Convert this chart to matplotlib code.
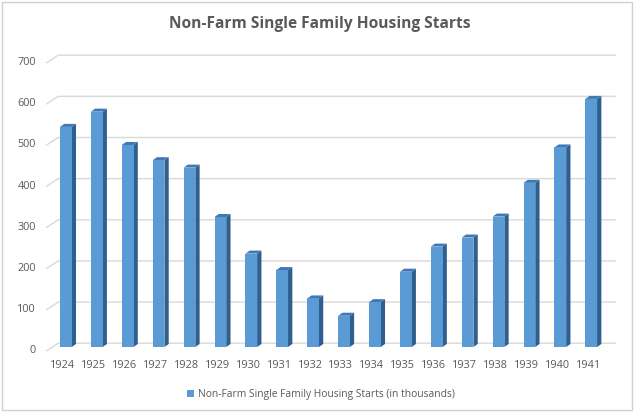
import matplotlib
matplotlib.use("Agg")
import matplotlib.pyplot as plt
from matplotlib.patches import Polygon, Rectangle, Patch

years = [1924, 1925, 1926, 1927, 1928, 1929, 1930, 1931, 1932,
         1933, 1934, 1935, 1936, 1937, 1938, 1939, 1940, 1941]
starts = [535, 572, 491, 454, 436, 316, 227, 187, 118,
          76, 109, 183, 244, 266, 317, 399, 485, 603]
y_ticks = [0, 100, 200, 300, 400, 500, 600, 700]
title = "Non-Farm Single Family Housing Starts"
series_name = "Non-Farm Single Family Housing Starts (in thousands)"

W, H = 640, 415
fig = plt.figure(figsize=(W / 100, H / 100), dpi=100)
fig.patch.set_facecolor("white")

# axes in pixel terms
ax_l, ax_r, ax_t, ax_b = 46.7, 615.0, 45.0, 360.0
ax = fig.add_axes([ax_l / W, (H - ax_b) / H, (ax_r - ax_l) / W, (ax_b - ax_t) / H])
ax.set_xlim(-0.62, 17.77)
ax.set_ylim(-31.6, 734)
ax.axis("off")

txt = "#595959"
grid_c = "#d9d9d9"
front_c = "#5b9bd5"
side_c = "#2f5f8f"
top_c = "#3f78b2"

front_off = -9.0
back_off = 9.2
x_back = -0.246
x_front = -0.62
x_end = 17.77

for v in y_ticks:
    ax.plot([x_front, x_back, x_end], [v + front_off, v + back_off, v + back_off],
            color=grid_c, lw=1.0, clip_on=False, zorder=1)
    ax.text(x_front - 0.35, v + front_off, str(v), ha="right", va="center",
            fontsize=7.8, color=txt, family="Open Sans")

bw = 0.379
ddx = 0.139
ddy = 7.3
xs = list(range(len(years)))
ax.bar(xs, starts, width=bw, color=front_c, zorder=3, linewidth=0)
for x, v in zip(xs, starts):
    r = x + bw / 2
    l = x - bw / 2
    side = Polygon([(r, 0), (r + ddx, ddy), (r + ddx, v + ddy), (r, v)],
                   closed=True, facecolor=side_c, edgecolor="none", zorder=2)
    top = Polygon([(l, v), (l + ddx, v + ddy), (r + ddx, v + ddy), (r, v)],
                  closed=True, facecolor=top_c, edgecolor="none", zorder=2)
    ax.add_patch(side)
    ax.add_patch(top)

for x, y in zip(xs, years):
    ax.text(x - 0.1, -46, str(y), ha="center", va="center", fontsize=7.8,
            color=txt, family="Open Sans", clip_on=False)

fig.text(319.5 / W, 1 - 24 / H, title, ha="center", va="center",
         fontsize=11.2, fontweight="bold", color=txt, family="Open Sans")

handle = Patch(facecolor=front_c, edgecolor="none")
leg = fig.legend([handle], [series_name], loc="center",
                 bbox_to_anchor=(321 / W, 1 - 394.7 / H), frameon=False,
                 handlelength=0.6, handleheight=0.6, handletextpad=0.4,
                 prop={"family": "Open Sans", "size": 7.4})
for t in leg.get_texts():
    t.set_color(txt)

fig.patches.append(Rectangle((2 / W, (H - 410) / H), 630 / W, 408 / H,
                             transform=fig.transFigure, fill=False,
                             edgecolor="#d0d0d0", lw=1.0))

fig.savefig("out.png", dpi=100, facecolor="white")
